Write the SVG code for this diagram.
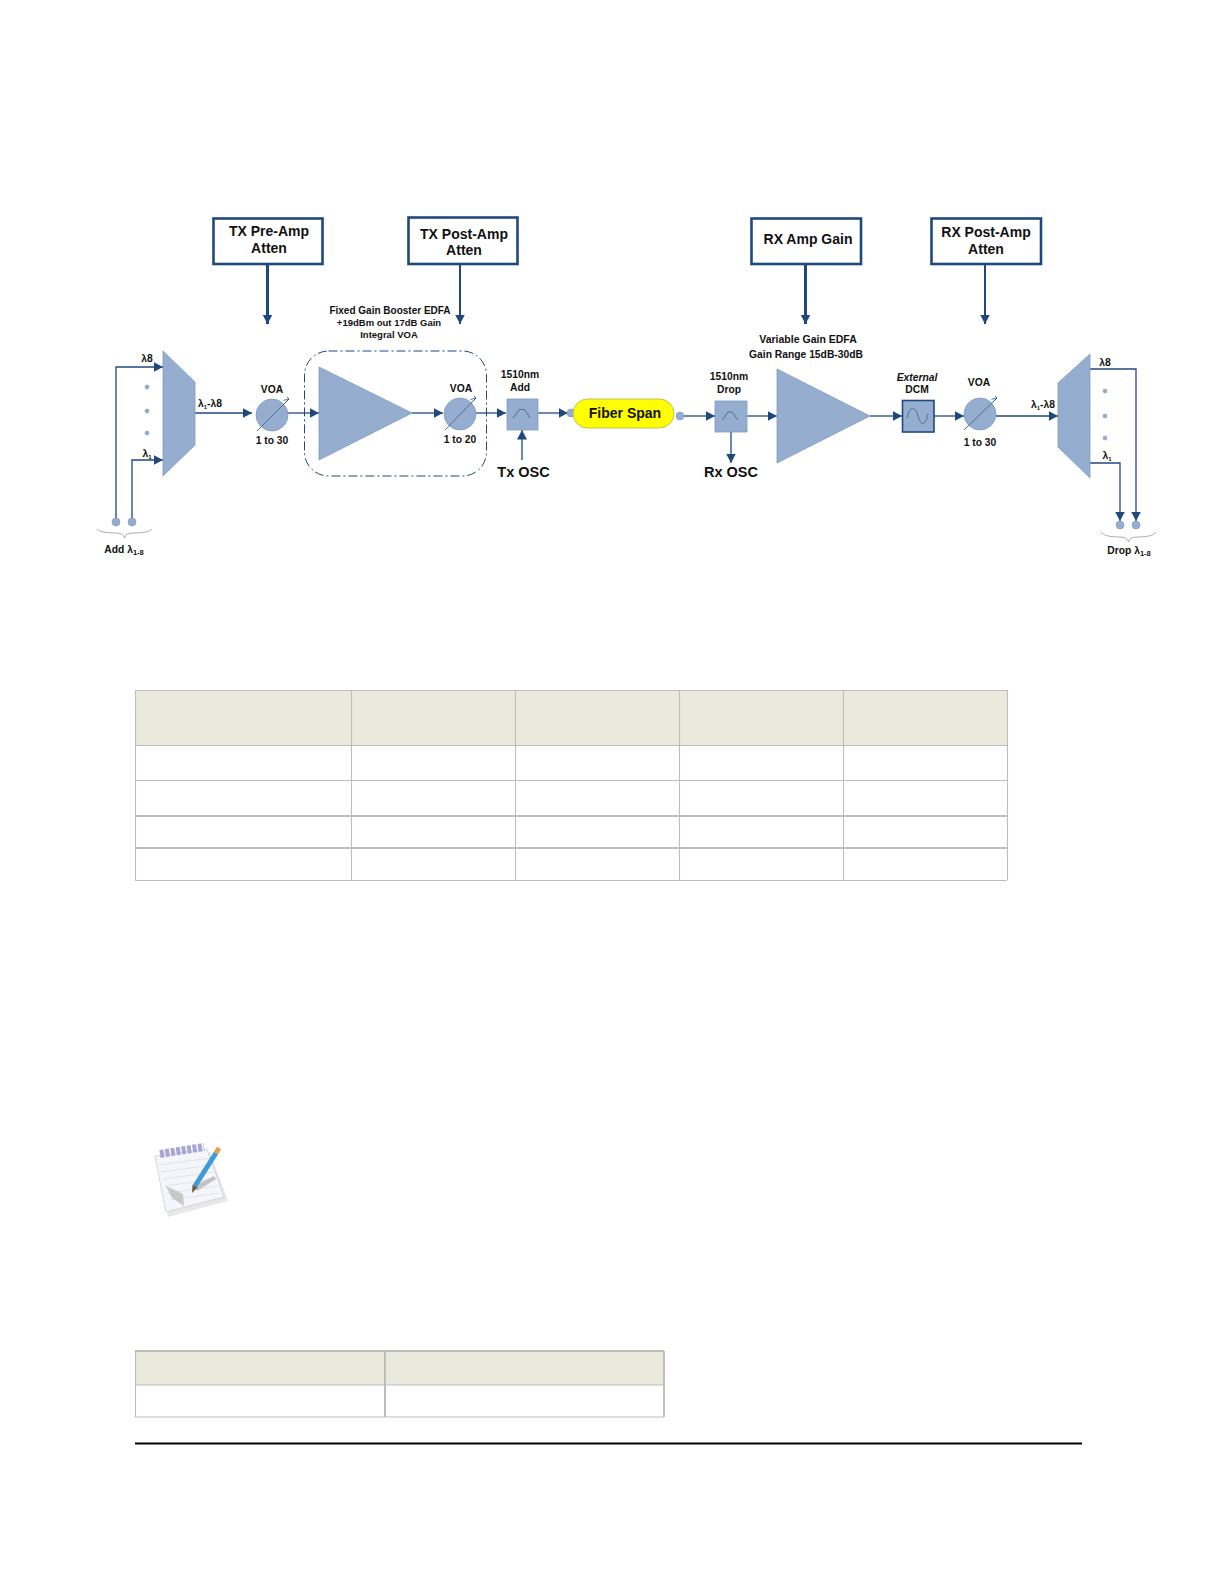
<svg xmlns="http://www.w3.org/2000/svg" width="1224" height="1584" viewBox="0 0 1224 1584">
<style>
text{font-family:"Liberation Sans",Arial,sans-serif;font-weight:bold;fill:#111;text-anchor:middle}
.t14{font-size:14px}.t15{font-size:14.500px}.t10{font-size:10.300px}.t9{font-size:10px}
.box{fill:#fff;stroke:#1f497d;stroke-width:2.6}
.sh{fill:#95aed0;stroke:#7e9ac2;stroke-width:.8}
.l{fill:none;stroke:#1f497d;stroke-width:1.3}
.lt{fill:none;stroke:#1f497d;stroke-width:3}
.lm{fill:none;stroke:#1f497d;stroke-width:2}
.dot{fill:#95aed0;stroke:#7e9ac2;stroke-width:.6}
.g{fill:none;stroke:#526d91;stroke-width:1}
.brace{fill:none;stroke:#999;stroke-width:.8}
.cell{fill:none;stroke:#bdbdbd;stroke-width:1.100}
.hd{fill:#e9eadb}
</style>
<defs>
<marker id="a" markerUnits="userSpaceOnUse" markerWidth="11" markerHeight="11" refX="9.500" refY="5.500" orient="auto"><path d="M0 .5L9.500 5.500L0 10.500Z" fill="#1f497d"/></marker>
<marker id="s" markerUnits="userSpaceOnUse" markerWidth="6" markerHeight="6" refX="5" refY="3" orient="auto"><path d="M0 0L5 3M0 3H5M5 3V0" fill="none" stroke="#1f497d" stroke-width=".7"/></marker>
</defs>
<rect width="1224" height="1584" fill="#fff"/>

<g id="connectors">
<path class="lt" d="M267.500 264V324" marker-end="url(#a)"/>
<path class="lm" d="M460 264V324" marker-end="url(#a)"/>
<path class="lt" d="M805.500 264V324" marker-end="url(#a)"/>
<path class="lm" d="M985 264V324" marker-end="url(#a)"/>
<path class="l" d="M116 520V367H163" marker-end="url(#a)"/>
<path class="l" d="M132 520V460H163" marker-end="url(#a)"/>
<path class="l" d="M195 413H252" marker-end="url(#a)"/>
<path class="l" d="M288 413H319" marker-end="url(#a)"/>
<path class="l" d="M412 413H443" marker-end="url(#a)"/>
<path class="l" d="M475 413H506" marker-end="url(#a)"/>
<path class="l" d="M538 413H568" marker-end="url(#a)"/>
<path class="l" d="M522 460V430" marker-end="url(#a)"/>
<path class="l" d="M684 416H715" marker-end="url(#a)"/>
<path class="l" d="M747 416H777" marker-end="url(#a)"/>
<path class="l" d="M731 432V463" marker-end="url(#a)"/>
<path class="l" d="M870 416H902" marker-end="url(#a)"/>
<path class="l" d="M934 416H964" marker-end="url(#a)"/>
<path class="l" d="M996 416H1058" marker-end="url(#a)"/>
<path class="l" d="M1090 369H1136V521" marker-end="url(#a)"/>
<path class="l" d="M1090 463H1120V521" marker-end="url(#a)"/>
</g>

<g id="tx-pre-amp"><rect class="box" x="213.500" y="218.500" width="109" height="45.500"/><text class="t14" x="269" y="236">TX Pre-Amp</text><text class="t14" x="269" y="253">Atten</text></g>
<g id="tx-post-amp"><rect class="box" x="408.500" y="217.500" width="109" height="46.500"/><text class="t14" x="464" y="239">TX Post-Amp</text><text class="t14" x="464" y="255">Atten</text></g>
<g id="rx-amp-gain"><rect class="box" x="751.500" y="218.500" width="109.500" height="45.500"/><text class="t14" x="808" y="244">RX Amp Gain</text></g>
<g id="rx-post-amp"><rect class="box" x="931.500" y="218.500" width="109.500" height="45.500"/><text class="t14" x="986" y="237">RX Post-Amp</text><text class="t14" x="986" y="254">Atten</text></g>

<g id="add-mux"><polygon class="sh" points="163,351 195,382 195,445 163,476"/>
<circle class="dot" cx="147" cy="387" r="2"/><circle class="dot" cx="147" cy="411" r="2"/><circle class="dot" cx="147" cy="433" r="2"/>
<text class="t10" x="147" y="362">λ8</text><text class="t10" x="147" y="457">λ<tspan font-size="6" dy="1.500">1</tspan></text><text class="t10" x="210" y="407">λ<tspan font-size="6" dy="1.500">1</tspan><tspan dy="-1.500">-λ8</tspan></text></g>
<g id="add-ports"><circle class="dot" cx="116" cy="522" r="4"/><circle class="dot" cx="132" cy="522" r="4"/>
<path class="brace" d="M97 529Q100 533 115 533Q124 533 124.500 538Q125 533 134 533Q149 533 152 529"/>
<text class="t10" x="124" y="553">Add λ<tspan font-size="7.500" dy="1.500">1-8</tspan></text></g>

<g id="voa-1"><circle class="sh" cx="272" cy="415" r="16"/><path class="g" d="M257 431L289 399" marker-end="url(#s)"/><text class="t10" x="272" y="393">VOA</text><text class="t10" x="272" y="444">1 to 30</text></g>

<g id="booster-edfa"><text class="t9" x="390" y="314">Fixed Gain Booster EDFA</text><text class="t9" x="389" y="326" font-size="9.500" style="font-size:9.500px">+19dBm out  17dB Gain</text><text class="t9" style="font-size:9.500px" x="389" y="338">Integral VOA</text>
<rect x="304.500" y="351" width="182" height="125" rx="24" fill="none" stroke="#1f497d" stroke-width="1" stroke-dasharray="9 3 2 3"/>
<polygon class="sh" points="319,367 412,413 319,460"/></g>
<g id="voa-2"><circle class="sh" cx="460" cy="414" r="16"/><path class="g" d="M445 430L476 398" marker-end="url(#s)"/><text class="t10" x="461" y="392">VOA</text><text class="t10" x="460" y="443">1 to 20</text></g>

<g id="add-filter"><rect class="sh" x="507" y="399" width="31" height="31" stroke="#1f497d"/><path class="g" d="M513 418L519.500 409.500H524.500L530 418"/><text class="t10" x="520" y="378">1510nm</text><text class="t10" x="520" y="391">Add</text></g>
<g id="tx-osc"><text class="t15" x="523.500" y="477">Tx OSC</text></g>

<g id="fiber-span"><circle class="dot" cx="571" cy="413" r="4"/><circle class="dot" cx="680" cy="416" r="4"/><rect x="573" y="399" width="101" height="29" rx="14.500" fill="#ffff00" stroke="#b5b050" stroke-width=".8"/><text class="t14" x="625" y="418">Fiber Span</text></g>

<g id="drop-filter"><rect class="sh" x="715" y="401" width="32" height="31" stroke="#1f497d"/><path class="g" d="M722.500 420L728 412H732L738 420"/><text class="t10" x="729" y="380">1510nm</text><text class="t10" x="729" y="393">Drop</text></g>
<g id="rx-osc"><text class="t15" x="731" y="477">Rx OSC</text></g>

<g id="rx-edfa"><text class="t10" style="font-size:10.500px" x="808" y="343">Variable Gain EDFA</text><text class="t10" x="806" y="358">Gain Range 15dB-30dB</text><polygon class="sh" points="777,369 870,416 777,463"/></g>

<g id="dcm"><rect x="902.500" y="400.500" width="31.500" height="31.500" fill="#95aed0" stroke="#1f497d" stroke-width="1.600"/><path class="g" d="M907 418C910 405 915 406 918 416C921 426 925 427 928 414"/><text class="t10" font-style="italic" x="917" y="381">External</text><text class="t10" x="917" y="393">DCM</text></g>
<g id="voa-3"><circle class="sh" cx="980" cy="414" r="16"/><path class="g" d="M964 430L997 398" marker-end="url(#s)"/><text class="t10" x="979" y="386">VOA</text><text class="t10" x="980" y="446">1 to 30</text></g>

<g id="drop-mux"><polygon class="sh" points="1058,383 1090,354 1090,478 1058,447"/>
<circle class="dot" cx="1105" cy="391" r="2"/><circle class="dot" cx="1105" cy="416" r="2"/><circle class="dot" cx="1105" cy="438" r="2"/>
<text class="t10" x="1105" y="366">λ8</text><text class="t10" x="1107" y="459">λ<tspan font-size="6" dy="1.500">1</tspan></text><text class="t10" x="1043" y="408">λ<tspan font-size="6" dy="1.500">1</tspan><tspan dy="-1.500">-λ8</tspan></text></g>
<g id="drop-ports"><circle class="dot" cx="1120" cy="525" r="4"/><circle class="dot" cx="1136" cy="525" r="4"/>
<path class="brace" d="M1101 532Q1104 537 1119 537Q1128 537 1128.500 542Q1129 537 1138 537Q1153 537 1156 532"/>
<text class="t10" x="1129" y="554">Drop λ<tspan font-size="7.500" dy="1.500">1-8</tspan></text></g>

<g id="table-1">
<rect class="hd" x="135" y="690" width="872" height="55"/>
<path class="cell" d="M135 690.500H1007M135 745.500H1007M135 780.500H1007M135 880.500H1007M135.500 690V880M351.500 690V880M515.500 690V880M679.500 690V880M843.500 690V880M1007.500 690V880"/>
<path class="cell" style="stroke-width:2" d="M135 816H1007M135 848H1007"/>
</g>

<g id="note-icon">
<polygon points="156,1160 210,1152 228,1201 168,1217" fill="#d8d8d8" opacity=".6"/>
<polygon points="155,1156 207,1149 224,1197 166,1212" fill="#f5f6fb" stroke="#ccced8" stroke-width=".8"/>
<path d="M159 1165L210 1158M161 1172L212 1165M163 1179L214 1172M165 1186L216 1179M167 1193L218 1186M169 1200L220 1193" stroke="#dadeea" stroke-width=".8" fill="none"/>
<path d="M160 1154L204 1147" stroke="#a9a4d6" stroke-width="8" stroke-dasharray="4 1.500" fill="none"/>
<polygon points="166,1186 183,1194 184,1206 172,1198" fill="#c8c8c8"/>
<polygon points="194,1186 214,1176 216,1179 197,1191" fill="#c2c2c2"/>
<path d="M216 1153L195 1186" stroke="#3f9ad6" stroke-width="5" fill="none"/>
<path d="M219 1148L216 1153" stroke="#e2a24a" stroke-width="5" fill="none"/>
<polygon points="192.500,1184.500 197.500,1187.500 192,1193" fill="#6b5a4a"/>
</g>

<g id="table-2">
<rect class="hd" x="135" y="1351" width="529" height="34"/>
<path class="cell" d="M135 1385H664M135 1417H664M135.500 1351V1417"/>
<path class="cell" style="stroke-width:2" d="M135 1351H664M385 1351V1417M664 1351V1417"/>
</g>
<path id="bottom-rule" d="M135 1443.500H1082" stroke="#000" stroke-width="1.800" fill="none"/>
</svg>
